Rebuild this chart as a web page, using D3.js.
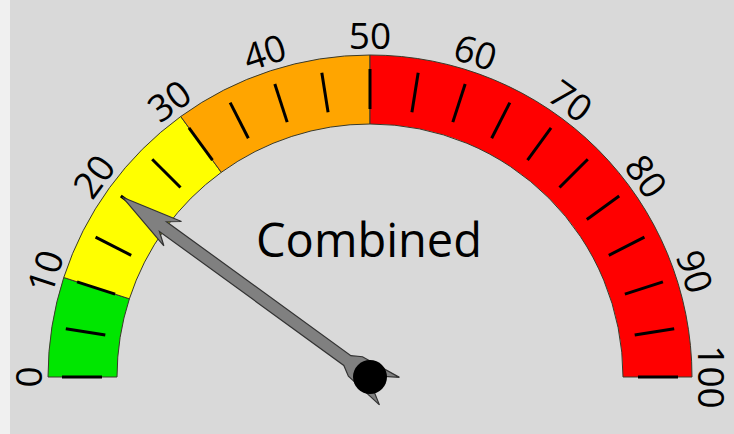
<!DOCTYPE html>
<html>
<head>
<meta charset="utf-8">
<script src="https://cdn.jsdelivr.net/npm/d3@7"></script>
<style>
  body { margin: 0; background: #f0f0f0; }
  svg { display: block; }
</style>
</head>
<body>
<script>
// gauge data
var bandStops = [0, 10, 30, 50, 100];
var bandColors = ["#00e600", "#ffff00", "#ffa500", "#ff0000"];
var tickValues = [0, 5, 10, 15, 20, 25, 30, 35, 40, 45, 50, 55, 60, 65, 70, 75, 80, 85, 90, 95, 100];
var labelValues = [0, 10, 20, 30, 40, 50, 60, 70, 80, 90, 100];
var needleValue = [20];
var gaugeTitle = ["Combined"];

var width = 734, height = 434;
var cx = 370, cy = 377,
    rOuter = 322, rInner = 253;

var svg = d3.select("body").append("svg")
    .attr("width", width)
    .attr("height", height);

svg.append("rect")
    .attr("x", 10).attr("y", 0)
    .attr("width", width - 10).attr("height", height)
    .attr("fill", "#d9d9d9");

var g = svg.append("g")
    .attr("transform", "translate(" + cx + "," + cy + ")");

// value -> degrees (0 = pointing left, 100 = pointing right)
var angle = d3.scaleLinear().domain([0, 100]).range([-90, 90]);
var rad = function(v) { return angle(v) * Math.PI / 180; };

var arc = d3.arc()
    .innerRadius(rInner)
    .outerRadius(rOuter);

var bands = d3.range(bandColors.length).map(function(i) {
    return { from: bandStops[i], to: bandStops[i + 1], color: bandColors[i] };
});

g.selectAll(".band")
    .data(bands)
    .enter().append("path")
    .attr("class", "band")
    .attr("d", function(d) { return arc({ startAngle: rad(d.from), endAngle: rad(d.to) }); })
    .attr("fill", function(d) { return d.color; })
    .attr("stroke", "#3a3a2a")
    .attr("stroke-width", 1);

g.selectAll(".tick")
    .data(tickValues)
    .enter().append("line")
    .attr("class", "tick")
    .attr("transform", function(d) { return "rotate(" + angle(d) + ")"; })
    .attr("x1", 0).attr("y1", -268)
    .attr("x2", 0).attr("y2", -308)
    .attr("stroke", "#000")
    .attr("stroke-width", 3);

g.selectAll(".lbl")
    .data(labelValues)
    .enter().append("text")
    .attr("class", "lbl")
    .attr("transform", function(d) { return "rotate(" + angle(d) + ") translate(0," + -(rOuter + 6) + ")"; })
    .attr("text-anchor", "middle")
    .attr("font-family", "'Open Sans', sans-serif")
    .attr("font-size", 37)
    .attr("fill", "#000")
    .text(function(d) { return d; });

g.append("text")
    .attr("x", -1)
    .attr("y", -120)
    .attr("text-anchor", "middle")
    .attr("font-family", "'Open Sans', sans-serif")
    .attr("font-size", 47)
    .attr("fill", "#000")
    .text(gaugeTitle[0]);

// needle, drawn pointing up then rotated to the value
var L = rOuter * 0.95;
var needlePts = [
    [0, -L], [15, -L + 62], [6, -L + 50], [6, -28], [12, -18], [17, 24], [7, 8],
    [-7, 8], [-17, 24], [-12, -18], [-6, -28], [-6, -L + 50], [-15, -L + 62]
];

var needle = g.selectAll(".needle")
    .data(needleValue)
    .enter().append("g")
    .attr("class", "needle")
    .attr("transform", function(d) { return "rotate(" + angle(d) + ")"; });

needle.append("path")
    .attr("d", d3.line()(needlePts) + "Z")
    .attr("fill", "#808080")
    .attr("stroke", "#333")
    .attr("stroke-width", 1.2)
    .attr("stroke-linejoin", "miter");

g.append("circle")
    .attr("r", 17)
    .attr("fill", "#000");
</script>
</body>
</html>
